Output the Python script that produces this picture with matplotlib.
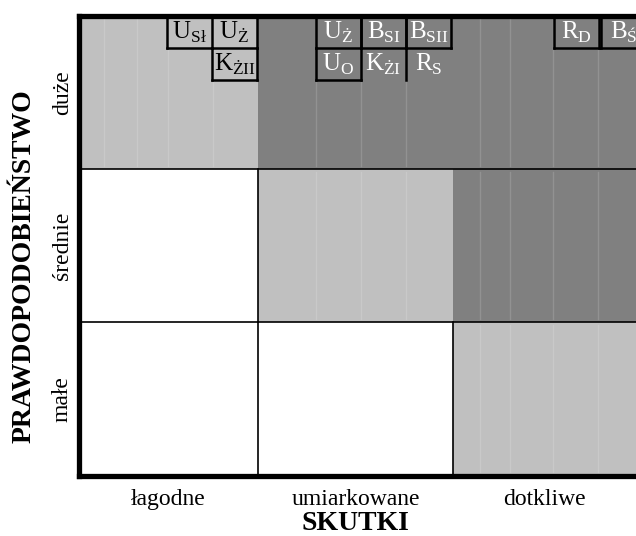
import matplotlib
matplotlib.use('Agg')
import matplotlib.pyplot as plt
from matplotlib.patches import Rectangle

plt.rcParams['font.family'] = ['Liberation Serif', 'DejaVu Serif']
plt.rcParams['mathtext.fontset'] = 'custom'
plt.rcParams['mathtext.rm'] = 'Liberation Serif'

# dane
skutki = ['łagodne', 'umiarkowane', 'dotkliwe']
prawdop = ['małe', 'średnie', 'duże']
# 0 - białe, 1 - jasnoszare, 2 - ciemnoszare (wiersze od dołu)
poziom = [[0, 0, 1],
          [0, 1, 2],
          [1, 2, 2]]
litery = ['U', 'U', 'K', 'U', 'B', 'B', 'U', 'K', 'R', 'R', 'B']
indeksy = ['Sł', 'Ż', 'ŻII', 'Ż', 'SI', 'SII', 'O', 'ŻI', 'S', 'D', 'Ś']
ramki = ['lrb', 'rb', 'lrb', 'lrb', 'lrb', 'lrb', 'lrb', 'r', '', 'lrb', 'lrb']

# uklad etykiet (lewa krawedz, wiersz w komorce)
lab_x = [0.533, 0.764, 0.764, 1.297, 1.528, 1.759, 1.297, 1.528, 1.759, 2.518, 2.759]
lab_r = [0, 0, 1, 0, 0, 0, 1, 1, 1, 0, 0]
box_w, box_h = 0.231, 0.21
faint_x = [0.210, 0.379, 0.538, 0.769, 1.297, 1.528, 1.759, 2.138, 2.292, 2.513, 2.744]

kolory = ['white', '#c0c0c0', '#808080']

fig = plt.figure(figsize=(6.36, 5.36), dpi=100)
W, H = 636, 536
ax = fig.add_axes([78.5 / W, (H - 475.5) / H, (648 - 78.5) / W, (475.5 - 15.5) / H])
ax.set_xlim(0.08, 3.0)
ax.set_ylim(0, 3)

for r in range(3):
    for c in range(3):
        ax.add_patch(Rectangle((c, r), 1, 1, facecolor=kolory[poziom[r][c]],
                               edgecolor='none', zorder=1))

# slabe linie siatki w szarych komorkach
for fx in faint_x:
    c = int(fx)
    for r in range(3):
        if poziom[r][c] > 0:
            ax.plot([fx, fx], [r + 0.02, r + 0.98], color='white', alpha=0.15,
                    lw=1, zorder=2)

# linie miedzy komorkami
for r in (1, 2):
    ax.plot([0, 3], [r, r], color='black', lw=1.2, zorder=3)
for c in (1, 2):
    for r in range(3):
        if poziom[r][c - 1] == 0 or poziom[r][c] == 0:
            ax.plot([c, c], [r, r + 1], color='black', lw=1.2, zorder=3)

# etykiety zagrozen
for lit, ind, rm, x0, wr in zip(litery, indeksy, ramki, lab_x, lab_r):
    y1 = 3 - wr * box_h
    y0 = y1 - box_h
    kol = 'white' if poziom[2][int(x0)] == 2 else 'black'
    ax.text(x0 + box_w / 2, y0 + box_h / 2 - 0.005, r'$\mathrm{%s}_{\mathrm{%s}}$' % (lit, ind),
            ha='center', va='center', fontsize=18, color=kol, zorder=5)
    if 'l' in rm:
        ax.plot([x0, x0], [y0, y1], color='black', lw=1.8, zorder=4)
    if 'r' in rm:
        ax.plot([x0 + box_w, x0 + box_w], [y0, y1], color='black', lw=1.8, zorder=4)
    if 'b' in rm:
        ax.plot([x0, x0 + box_w], [y0, y0], color='black', lw=1.8, zorder=4)

for s in ax.spines.values():
    s.set_linewidth(3.8)
    s.set_zorder(6)

ax.set_xticks([(0.08 + 1) / 2, 1.5, (2 + 2.94) / 2])
ax.set_xticklabels(skutki, fontsize=17)
ax.set_yticks([0.5, 1.5, 2.5])
ax.set_yticklabels(prawdop, fontsize=17, rotation=90, va='center')
ax.tick_params(axis='x', length=0, pad=10)
ax.tick_params(axis='y', length=0, pad=4)
ax.set_xlabel('SKUTKI', fontsize=20, fontweight='bold')
ax.set_ylabel('PRAWDOPODOBIEŃSTWO', fontsize=20, fontweight='bold')
ax.xaxis.set_label_coords(0.4855, -0.077)
ax.yaxis.set_label_coords(-0.073, 0.455)

fig.savefig('out.png', dpi=100)
